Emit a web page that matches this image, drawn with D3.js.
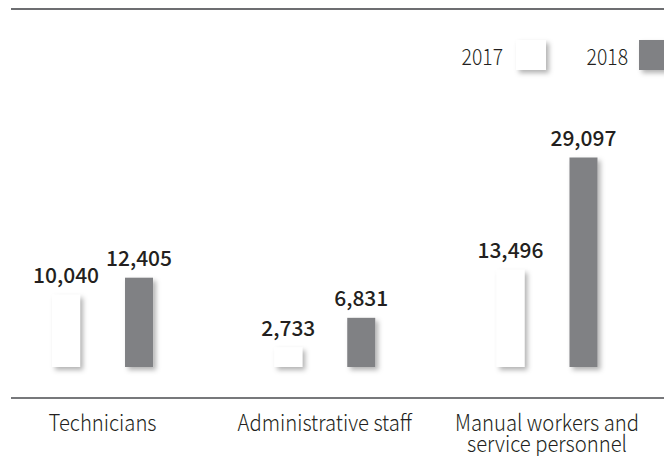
<!DOCTYPE html>
<html>
<head>
<meta charset="utf-8">
<script src="https://cdn.jsdelivr.net/npm/d3@7"></script>
<style>
  html, body { margin: 0; padding: 0; background: #ffffff; }
  svg { display: block; }
</style>
</head>
<body>
<svg id="chart" width="664" height="456"></svg>
<script>
// ---- data ----
const categories = ["Technicians", "Administrative staff", "Manual workers and\nservice personnel"];
const years = ["2017", "2018"];
const values2017 = [10040, 2733, 13496];
const values2018 = [12405, 6831, 29097];

// ---- setup ----
const W = 664, H = 456;
const svg = d3.select("#chart");
const textColor = "#231f20";
const greyFill = "#808184";
const fills = {"2017": "#ffffff", "2018": greyFill};
const fontFam = "'Noto Sans CJK KR', 'Noto Sans', sans-serif";
const sx = 0.9; // horizontal squeeze of the reference typography

const defs = svg.append("defs");
const f = defs.append("filter").attr("id", "shadow")
  .attr("x", "-50%").attr("y", "-50%").attr("width", "200%").attr("height", "200%");
f.append("feDropShadow").attr("dx", 3).attr("dy", 3).attr("stdDeviation", 2.5)
  .attr("flood-color", "#000").attr("flood-opacity", 0.3);

const baseY = 367;
const y = d3.scaleLinear().domain([0, 30000]).range([baseY, 151]);

const x0 = d3.scaleBand().domain(categories).range([-8.6, 658.1]).padding(0);
const innerW = 101;
const x1 = d3.scaleBand().domain(years)
  .range([(x0.bandwidth() - innerW) / 2, (x0.bandwidth() + innerW) / 2])
  .paddingInner(0.6164).paddingOuter(0);

const rows = categories.map((c, i) => ({
  cat: c,
  vals: [{year: "2017", v: values2017[i]}, {year: "2018", v: values2018[i]}]
}));

// top rule
svg.append("line").attr("x1", 11).attr("x2", W).attr("y1", 9).attr("y2", 9)
  .attr("stroke", "#6d6e71").attr("stroke-width", 2);

// axis line
svg.append("line").attr("x1", 11).attr("x2", W).attr("y1", 398).attr("y2", 398)
  .attr("stroke", "#77787b").attr("stroke-width", 2);

// bars
const groups = svg.selectAll("g.grp").data(rows).enter().append("g")
  .attr("class", "grp")
  .attr("transform", d => `translate(${x0(d.cat)},0)`);

groups.selectAll("rect").data(d => d.vals).enter().append("rect")
  .attr("x", d => x1(d.year))
  .attr("y", d => y(d.v))
  .attr("width", x1.bandwidth())
  .attr("height", d => y(0) - y(d.v))
  .attr("fill", d => fills[d.year])
  .attr("filter", "url(#shadow)");

groups.selectAll("text.val").data(d => d.vals).enter().append("text")
  .attr("class", "val")
  .attr("x", d => x1(d.year) + x1.bandwidth() / 2)
  .attr("y", d => y(d.v) - 11.5)
  .attr("text-anchor", "middle")
  .attr("font-family", fontFam)
  .attr("font-weight", 500)
  .attr("font-size", 21)
  .attr("fill", textColor)
  .text(d => d3.format(",")(d.v));

// category labels
groups.each(function(d) {
  const lines = d.cat.split("\n");
  const t = d3.select(this).append("text")
    .attr("text-anchor", "middle")
    .attr("font-family", fontFam)
    .attr("font-weight", 300)
    .attr("font-size", 22.5)
    .attr("fill", textColor)
    .attr("transform", `translate(${x0.bandwidth() / 2},430.5) scale(${sx},1)`);
  lines.forEach((ln, k) => {
    t.append("tspan").attr("x", 0).attr("y", k * 21.5).text(ln);
  });
});

// legend
const legendPos = [{year: "2017", tx: 503, bx: 516}, {year: "2018", tx: 628, bx: 639}];
legendPos.forEach(p => {
  svg.append("rect").attr("x", p.bx).attr("y", 40).attr("width", 30).attr("height", 30)
    .attr("fill", fills[p.year]).attr("filter", "url(#shadow)");
  svg.append("text")
    .attr("transform", `translate(${p.tx},64.5) scale(0.88,1)`)
    .attr("text-anchor", "end")
    .attr("font-family", fontFam)
    .attr("font-weight", 300)
    .attr("font-size", 22)
    .attr("fill", textColor)
    .text(p.year);
});
</script>
</body>
</html>
